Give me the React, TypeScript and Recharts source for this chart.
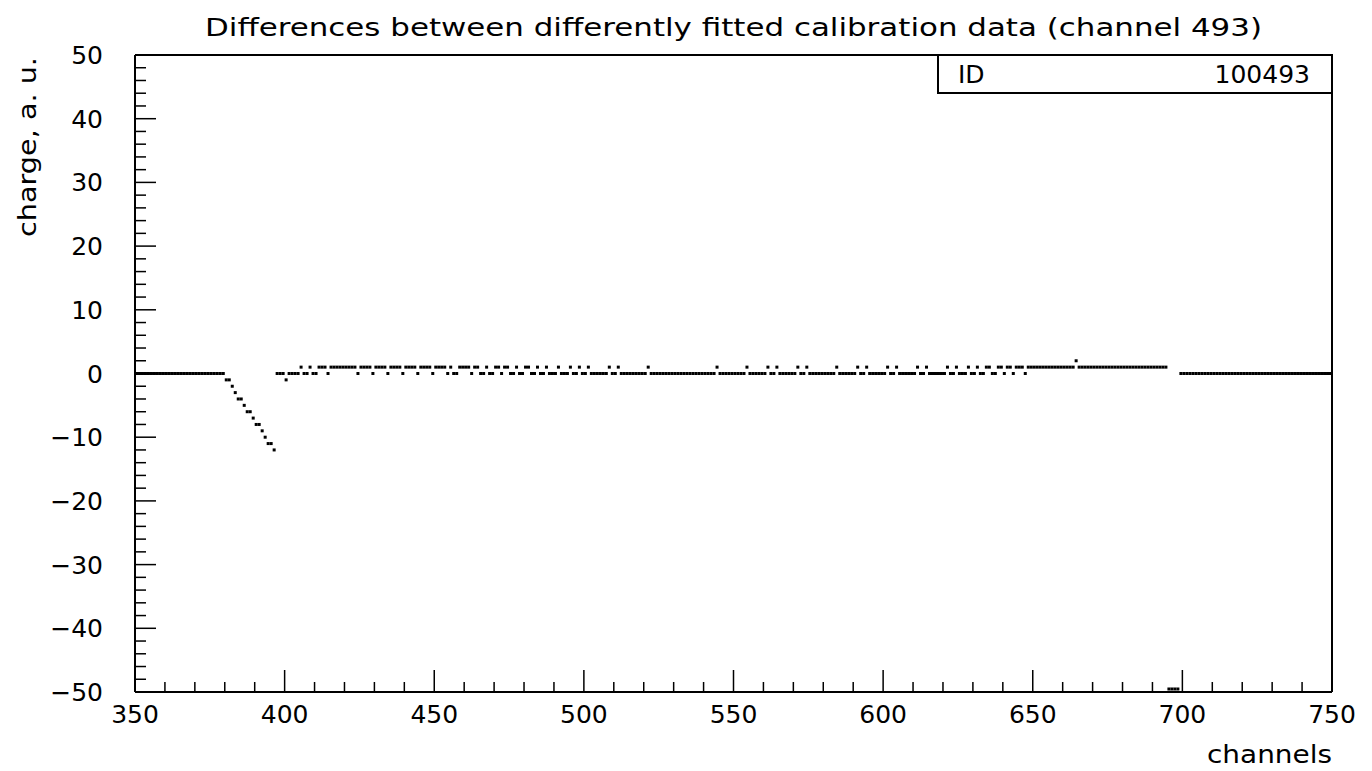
import { ReferenceLine, Scatter, ScatterChart, XAxis, YAxis } from 'recharts';

// channel range drawn on the x axis
const firstChannel = 350;
const lastChannel = 749;

// flat stretches: [from channel, to channel, value]
const flatRuns: Array<[number, number, number]> = [
  [350, 379, 0],
  [397, 399, 0],
  [648, 694, 1],
  [699, 749, 0],
];

// the drop after channel 379 (channels 380..396)
const dropValues = [-1, -1, -2, -3, -4, -4, -5, -6, -6, -7, -8, -8, -9, -10, -11, -11, -12];

// in the noisy stretch 401..647 these channels sit at +1, the rest at 0
const upperChannels = [
  405, 408, 411, 412, 413, 415, 416, 417, 418, 419, 420, 421, 422, 423,
  425, 426, 427, 428, 430, 431, 432, 433, 435, 436, 437, 438, 440, 441, 442, 443,
  445, 446, 447, 448, 450, 451, 452, 453, 455, 458, 459, 460, 461, 463, 464,
  467, 470, 471, 473, 474, 477, 480, 481, 484, 487, 491, 495, 498, 501, 508, 511,
  521, 544, 554, 561, 564, 571, 574, 584, 591, 594, 601, 604, 611, 614, 621, 624,
  628, 631, 634, 635, 638, 639, 641, 642, 644, 645, 646,
];

// single odd bins
const oddBins: Array<[number, number]> = [
  [400, -1],
  [664, 2],
];

// bins below the frame (drawn on the bottom edge)
const underflowChannels = [695, 696, 697, 698];

const xMajorTicks = [350, 400, 450, 500, 550, 600, 650, 700, 750];
const xMinorStep = 10;
const yMajorTicks = [-50, -40, -30, -20, -10, 0, 10, 20, 30, 40, 50];
const yMinorStep = 2;

const title = 'Differences between differently fitted calibration data (channel 493)';
const xTitle = 'channels';
const yTitle = 'charge, a. u.';
const statId = '100493';

const binValue = new Map<number, number>();
flatRuns.forEach(([a, b, v]) => {
  for (let c = a; c <= b; c++) binValue.set(c, v);
});
dropValues.forEach((v, i) => binValue.set(380 + i, v));
for (let c = 401; c <= 647; c++) binValue.set(c, 0);
upperChannels.forEach((c) => binValue.set(c, 1));
oddBins.forEach(([c, v]) => binValue.set(c, v));
underflowChannels.forEach((c) => binValue.set(c, -50));

const bins: Array<{ x: number; y: number }> = [];
for (let c = firstChannel; c <= lastChannel; c++) {
  const v = binValue.get(c);
  if (v !== undefined) bins.push({ x: c + 0.5, y: v });
}

const ticksFrom = (major: number[], step: number) => {
  const out: number[] = [];
  for (let v = major[0]; v <= major[major.length - 1]; v += step) out.push(v);
  return out;
};
const xTicks = ticksFrom(xMajorTicks, xMinorStep);
const yTicks = ticksFrom(yMajorTicks, yMinorStep);

const W = 1372;
const H = 771;
const plotLeft = 135;
const plotRight = 1332;
const plotTop = 55;
const plotBottom = 692;
const binWidth = (plotRight - plotLeft) / 400;

const font = '"DejaVu Sans", sans-serif';
const ink = '#000';

const fmt = (v: number) => (v < 0 ? `\u2212${Math.abs(v)}` : `${v}`);

const XTick = (props: any) => {
  const { x, payload } = props;
  const y = plotBottom;
  const major = xMajorTicks.includes(payload.value);
  return (
    <g>
      <line x1={x} x2={x} y1={y} y2={y - (major ? 22 : 10)} stroke={ink} strokeWidth={1.5} />
      {major && (
        <text x={x} y={y + 31} textAnchor="middle" fontFamily={font} fontSize={25} fill={ink}>
          {fmt(payload.value)}
        </text>
      )}
    </g>
  );
};

const YTick = (props: any) => {
  const { y, payload } = props;
  const x = plotLeft;
  const major = yMajorTicks.includes(payload.value);
  return (
    <g>
      <line x1={x} x2={x + (major ? 21 : 11)} y1={y} y2={y} stroke={ink} strokeWidth={1.5} />
      {major && (
        <text x={x - 32} y={y + 9} textAnchor="end" fontFamily={font} fontSize={25} fill={ink}>
          {fmt(payload.value)}
        </text>
      )}
    </g>
  );
};

// one histogram bin = a short flat bar; bins clipped at the floor sit just above the frame
const BinMark = (props: any) => {
  const { cx, cy } = props;
  if (cx == null || cy == null) return <g />;
  const top = Math.min(cy - 1.5, plotBottom - 4.5);
  return <rect x={cx - binWidth / 2} y={top} width={binWidth} height={3} fill={ink} />;
};

export default function App() {
  return (
    <div style={{ position: 'absolute', left: 0, top: 0, width: W, height: H, background: '#fff' }}>
      <ScatterChart
        width={W}
        height={H}
        margin={{ top: plotTop, right: W - plotRight, bottom: H - plotBottom - 10, left: plotLeft - 10 }}
      >
        <XAxis
          type="number"
          dataKey="x"
          domain={[350, 750]}
          ticks={xTicks}
          interval={0}
          height={10}
          tickSize={0}
          tickMargin={0}
          tickLine={false}
          tick={<XTick />}
          axisLine={{ stroke: ink, strokeWidth: 2 }}
          allowDataOverflow
        />
        <YAxis
          type="number"
          dataKey="y"
          domain={[-50, 50]}
          ticks={yTicks}
          interval={0}
          width={10}
          tickSize={0}
          tickMargin={0}
          tickLine={false}
          tick={<YTick />}
          axisLine={{ stroke: ink, strokeWidth: 2 }}
          allowDataOverflow
        />
        <ReferenceLine y={50} stroke={ink} strokeWidth={2} />
        <ReferenceLine x={750} stroke={ink} strokeWidth={2} />
        <Scatter data={bins} shape={<BinMark />} isAnimationActive={false} />
      </ScatterChart>
      <svg
        width={W}
        height={H}
        style={{ position: 'absolute', left: 0, top: 0, pointerEvents: 'none' }}
      >
        <text
          x={(plotLeft + plotRight) / 2}
          y={36}
          textAnchor="middle"
          fontFamily={font}
          fontSize={25}
          textLength={1057}
          lengthAdjust="spacingAndGlyphs"
          fill={ink}
        >
          {title}
        </text>
        <text
          transform="translate(36,147) rotate(-90)"
          textAnchor="middle"
          fontFamily={font}
          fontSize={25}
          textLength={180}
          lengthAdjust="spacingAndGlyphs"
          fill={ink}
        >
          {yTitle}
        </text>
        <text
          x={plotRight}
          y={763}
          textAnchor="end"
          fontFamily={font}
          fontSize={25}
          textLength={125}
          lengthAdjust="spacingAndGlyphs"
          fill={ink}
        >
          {xTitle}
        </text>
        <rect x={938} y={plotTop} width={plotRight - 938} height={38} fill="#fff" stroke={ink} strokeWidth={2} />
        <text x={958} y={83} fontFamily={font} fontSize={25} fill={ink}>
          ID
        </text>
        <text x={1310} y={83} textAnchor="end" fontFamily={font} fontSize={25} fill={ink}>
          {statId}
        </text>
      </svg>
    </div>
  );
}
